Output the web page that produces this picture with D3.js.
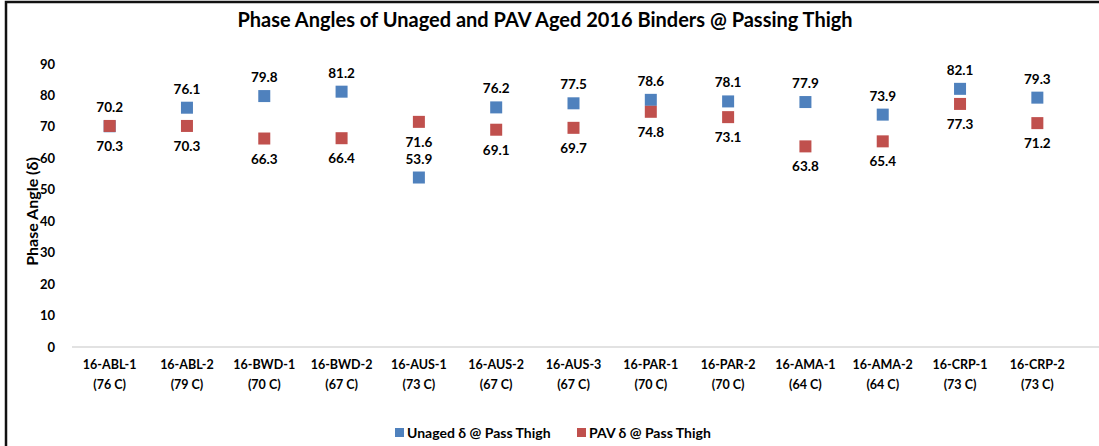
<!DOCTYPE html>
<html>
<head>
<meta charset="utf-8">
<script src="https://cdn.jsdelivr.net/npm/d3@7"></script>
<style>
body { margin: 0; background: #fff; }
text { font-family: Lato, "Open Sans", sans-serif; font-weight: bold; fill: #000; }
</style>
</head>
<body>
<div id="chart"></div>
<script>
var categories = ['16-ABL-1', '16-ABL-2', '16-BWD-1', '16-BWD-2', '16-AUS-1', '16-AUS-2', '16-AUS-3',
	'16-PAR-1', '16-PAR-2', '16-AMA-1', '16-AMA-2', '16-CRP-1', '16-CRP-2'];
var temps = ['(76 C)', '(79 C)', '(70 C)', '(67 C)', '(73 C)', '(67 C)', '(67 C)',
	'(70 C)', '(70 C)', '(64 C)', '(64 C)', '(73 C)', '(73 C)'];
var unaged = [70.2, 76.1, 79.8, 81.2, 53.9, 76.2, 77.5, 78.6, 78.1, 77.9, 73.9, 82.1, 79.3];
var pav = [70.3, 70.3, 66.3, 66.4, 71.6, 69.1, 69.7, 74.8, 73.1, 63.8, 65.4, 77.3, 71.2];
var yTicks = [0, 10, 20, 30, 40, 50, 60, 70, 80, 90];
var seriesNames = ['Unaged δ @ Pass Thigh', 'PAV δ @ Pass Thigh'];
var colors = ['#4f81bd', '#c0504d'];

var W = 1099, H = 446;
var svg = d3.select('#chart').append('svg')
	.attr('width', W)
	.attr('height', H);

// frame
svg.append('rect')
	.attr('x', 6).attr('y', 2)
	.attr('width', W + 10).attr('height', H + 10)
	.attr('fill', 'none')
	.attr('stroke', '#111')
	.attr('stroke-width', 2.5);

svg.append('text')
	.attr('x', 545).attr('y', 27)
	.attr('text-anchor', 'middle')
	.attr('font-size', '20px')
	.text('Phase Angles of Unaged and PAV Aged 2016 Binders @ Passing Thigh');

var x = d3.scaleBand()
	.domain(categories)
	.range([71, 1076]);
var y = d3.scaleLinear()
	.domain([0, 90])
	.range([347, 64]);

// y tick labels
svg.append('g').selectAll('text')
	.data(yTicks)
	.enter().append('text')
	.attr('x', 55)
	.attr('y', d => y(d))
	.attr('dy', '0.35em')
	.attr('text-anchor', 'end')
	.attr('font-size', '13px')
	.text(d => d);

// baseline
svg.append('line')
	.attr('x1', 72).attr('x2', W)
	.attr('y1', y(0)).attr('y2', y(0))
	.attr('stroke', '#d9d9d9')
	.attr('stroke-width', 1.5);

svg.append('text')
	.attr('transform', `translate(38, ${y(45) + 6}) rotate(-90)`)
	.attr('text-anchor', 'middle')
	.attr('font-size', '16px')
	.text('Phase Angle (δ)');

// x category labels
var xl = svg.append('g').selectAll('text')
	.data(categories)
	.enter().append('text')
	.attr('x', d => x(d) + x.bandwidth() / 2)
	.attr('y', 369)
	.attr('text-anchor', 'middle')
	.attr('font-size', '12.5px');
xl.append('tspan').text(d => d);
xl.append('tspan')
	.attr('x', d => x(d) + x.bandwidth() / 2)
	.attr('dy', 20)
	.text((d, i) => temps[i]);

var sz = 12;
// PAV drawn after unaged (covers it at ABL-1)
[unaged, pav].forEach((vals, s) => {
	svg.append('g').selectAll('rect')
		.data(vals)
		.enter().append('rect')
		.attr('x', (d, i) => x(categories[i]) + x.bandwidth() / 2 - sz / 2)
		.attr('y', d => y(d) - sz / 2)
		.attr('width', sz).attr('height', sz)
		.attr('fill', colors[s]);
});

// data labels: unaged above, PAV below
svg.append('g').selectAll('text')
	.data(unaged)
	.enter().append('text')
	.attr('x', (d, i) => x(categories[i]) + x.bandwidth() / 2)
	.attr('y', d => y(d) - 14)
	.attr('text-anchor', 'middle')
	.attr('font-size', '13.5px')
	.text(d => d.toFixed(1));
svg.append('g').selectAll('text')
	.data(pav)
	.enter().append('text')
	.attr('x', (d, i) => x(categories[i]) + x.bandwidth() / 2)
	.attr('y', d => y(d) + 25)
	.attr('text-anchor', 'middle')
	.attr('font-size', '13.5px')
	.text(d => d.toFixed(1));

// legend
var legendX = [395, 577];
seriesNames.forEach((n, i) => {
	var g = svg.append('g').attr('transform', `translate(${legendX[i]}, 428)`);
	g.append('rect')
		.attr('width', 9).attr('height', 9)
		.attr('fill', colors[i]);
	g.append('text')
		.attr('x', 12).attr('y', 10)
		.attr('font-size', '14px')
		.text(n);
});
</script>
</body>
</html>
